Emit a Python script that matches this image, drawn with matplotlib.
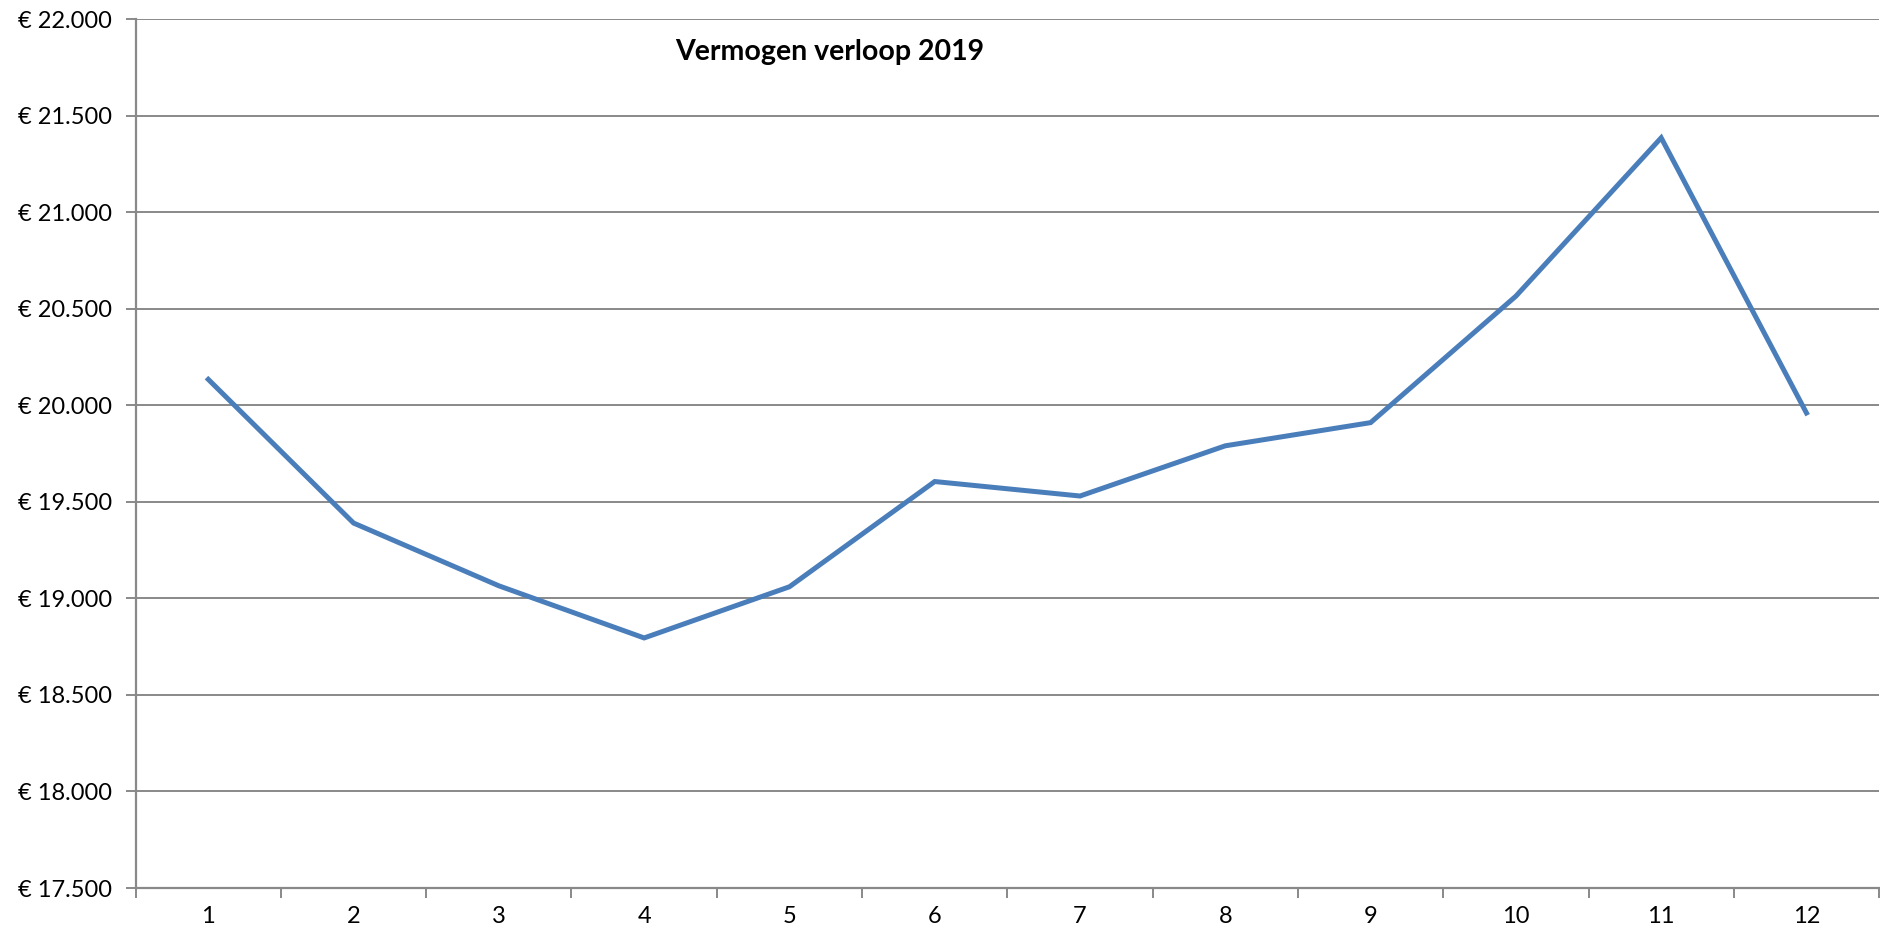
import numpy as np
import matplotlib.pyplot as plt
from matplotlib.ticker import FuncFormatter, MultipleLocator

plt.rcParams['font.family'] = ['Lato', 'DejaVu Sans']

months = [1, 2, 3, 4, 5, 6, 7, 8, 9, 10, 11, 12]
vermogen = [20134, 19390, 19065, 18795, 19060, 19605,
            19530, 19790, 19910, 20565, 21385, 19960]

grey = '#898989'

fig = plt.figure(figsize=(18.81, 9.33), dpi=100)
ax = fig.add_axes([0.0721, 0.0482, 0.9269, 0.9314])

ax.plot(months, vermogen, color='#4a7ebb', linewidth=3.6, solid_joinstyle='miter', zorder=3)

ax.set_xlim(0.5, 12.5)
ax.set_ylim(17500, 22000)

# gridlines
ax.yaxis.set_major_locator(MultipleLocator(500))
ax.grid(axis='y', color=grey, linewidth=1.4)
ax.set_axisbelow(True)

def euro(v, pos):
    return '€ ' + f'{int(v):,}'.replace(',', '.')

ax.yaxis.set_major_formatter(FuncFormatter(euro))

# category labels without ticks, tick marks between categories
ax.set_xticks(months)
ax.set_xticks(np.arange(0.5, 13, 1), minor=True)
ax.tick_params(axis='x', which='major', length=0, pad=13, labelsize=17)
ax.tick_params(axis='x', which='minor', length=7, width=1.4, color=grey, direction='out')
ax.tick_params(axis='y', length=7, width=1.4, color=grey, direction='out', pad=10, labelsize=17)

for s in ['top', 'right']:
    ax.spines[s].set_visible(False)
for s in ['left', 'bottom']:
    ax.spines[s].set_color(grey)
    ax.spines[s].set_linewidth(1.6)

ax.text(0.398, 0.962, 'Vermogen verloop 2019', transform=ax.transAxes,
        ha='center', va='center', fontsize=20.5, fontweight='bold')

fig.savefig('out.png', dpi=100)
